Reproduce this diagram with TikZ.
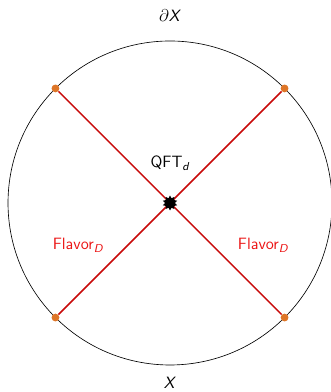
\documentclass[tikz,border=0pt]{standalone}
\usepackage{amstext}
\usetikzlibrary{shapes.geometric}
\definecolor{flavorline}{RGB}{200,10,10}
\definecolor{flavortext}{RGB}{235,20,20}
\definecolor{enddot}{RGB}{222,118,40}
\newcommand{\sfit}[1]{\textit{#1}}
\tikzset{
  enddot/.style={circle,fill=enddot,inner sep=0pt,minimum size=5.5pt},
  defect/.style={star,star points=10,star point ratio=1.5,fill=black,inner sep=0pt,minimum size=10.5pt},
  flavor/.style={draw=flavorline,line width=1pt},
  lbl/.style={font=\sffamily\fontsize{11.5}{14}\selectfont}
}
\begin{document}
\begin{tikzpicture}
  \useasboundingbox (-4.198,-4.667) rectangle (3.951,5.012);
  % Boundary of the bulk
  \draw[line width=0.45pt] (0,0) circle (4);
  % End points on the boundary
  \node[enddot] (ne) at (45:4) {};
  \node[enddot] (nw) at (135:4) {};
  \node[enddot] (sw) at (225:4) {};
  \node[enddot] (se) at (315:4) {};
  \coordinate (c) at (0,0);
  % Flavor defects
  \draw[flavor] (nw) -- (se);
  \draw[flavor] (ne) -- (sw);
  \node[defect] (qft) at (c) {};
  % Labels
  \node[lbl] (bdry) at (0,4.617) {$\partial$\sfit{X}};
  \node[lbl] (bulk) at (0,-4.444) {\sfit{X}};
  \node[lbl] (qftlbl) at (0,0.988) {QFT$_{\sfit{d}}$};
  \node[lbl,text=flavortext] (flavl) at (-2.27,-1.04) {Flavor$_{\sfit{D}}$};
  \node[lbl,text=flavortext] (flavr) at (2.30,-1.04) {Flavor$_{\sfit{D}}$};
\end{tikzpicture}
\end{document}
